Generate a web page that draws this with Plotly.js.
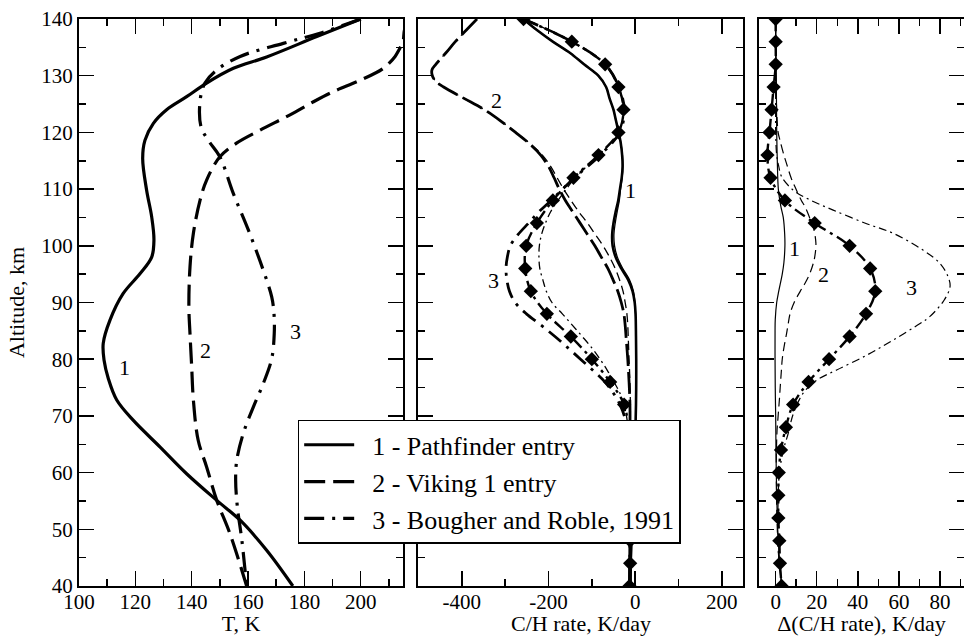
<!DOCTYPE html>
<html><head><meta charset="utf-8">
<script src="https://cdn.plot.ly/plotly-3.0.1.min.js"></script>
<style>html,body{margin:0;padding:0;background:#fff}#chart{width:964px;height:636px}</style>
</head><body><div id="chart"></div>
<script>
// ---- Panel 1: temperature profiles (T, K vs altitude, km)
var altT1 = [140,136.9,133.3,131.3,128.7,126.3,124,121.6,118.6,115.4,109.8,105.1,101,98,95.1,91.6,86.9,82.8,79.8,76.6,72.8,69.2,64.5,59.8,55.1,51.6,46.3,40];
var T1 = [200,184.4,166.6,154.8,145.3,138.2,131.1,126.4,123.4,122.6,124,125.8,126.6,125.8,121.7,115.7,111,108.6,108.9,110.4,113.4,119.3,128.8,138.2,148.9,157.2,166.6,175.9];
var altT2 = [140,138,136,134.5,133.4,131.3,129.2,127.2,125.4,123.1,120.4,118.1,115.7,111.6,108.1,102.2,96.3,89.2,84.5,78.6,72.8,65.7,61,55.1,49.2,40];
var T2 = [217,215.5,215,213.5,212.2,208,199.8,190.3,183.2,174.9,164.3,155.9,150,145.3,143,140.6,139.4,139,139.4,140,140.6,142.3,145.3,148.9,153.6,159.5];
var altT3 = [140,137.5,135.7,133.4,131,128.7,125.7,121,118.6,115.7,109.2,102.8,95.7,91,88.1,84.5,80.1,75.7,71.6,66.9,62.2,58.7,54,48.1,40];
var T3 = [200,185.5,172.5,157.2,148.9,144.7,143,143.3,145.9,150,154.8,160.1,165.4,168.4,169.2,169.3,168.4,165.4,161.9,158.3,156,155.6,156.2,157.8,159.5];

// ---- Panel 2: C/H rate, K/day
var altM1 = [140,138,136,134,132,130,128,126,124,122,120,118,116,114,112,110,108,106,104,102,100,98,96,94,92,90,88,84,80,76,72,66,60,55,50,45,40];
var rateM1 = [-258,-226,-190,-150,-118,-85,-67,-59,-50,-44,-38,-33,-30,-29,-31,-35,-39,-45,-50,-53,-52,-45,-32,-16,-6,-1,1,2,2.5,2.5,2,0,-3,-5,-8,-10,-12];
var rateM1b = [-258,-226,-190,-150,-118,-85,-67,-59,-50,-44,-37.5,-32.5,-29.3,-28.2,-30,-33.7,-36.5,-41.5,-46,-49,-47.5,-41,-28.5,-13,-4,-0.5,1,1.7,2.2,2.3,2,0.2,-2.7,-4.5,-7,-8.5,-9];
var altM2 = [140,138,136,134,132,131,130,129,128,126,124,122,120,118,116,114,112,110,108,106,104,102,100,98,96,94,92,90,88,86,84,80,76,72,66,60,50,40];
var rateM2 = [-365,-390,-415,-437,-460,-469,-468,-460,-442,-395,-348,-310,-276,-244,-218,-200,-187,-175,-161,-144,-127,-110,-93,-78,-63,-51,-40,-32,-26,-23,-21,-17,-14,-12,-12,-12,-12,-13];
var rateM2b = [-365,-390,-415,-437,-460,-469,-468,-460,-442,-395,-348,-310,-275,-242,-214,-195,-180,-165,-148,-130,-110,-92,-74,-59,-46,-36,-28,-23,-19,-17,-16,-14,-12,-11,-11,-11,-11,-10];
var altM3 = [140,136,132,128,124,120,116,112,108,106,104,102,100,98,96,94,92,90,88,86,84,82,80,78,76,74,72,70,66,60,50,40];
var rateM3 = [-258,-146,-69,-37.5,-25,-35.5,-80.6,-140,-194,-222,-246,-270,-288,-295,-298,-296,-290,-277,-251,-217,-185,-155,-126,-97,-70,-50,-35,-25,-17,-13,-12,-13];
var rateM3b = [-258,-146,-69,-38,-27,-38,-84,-138,-178,-195,-207,-216,-221,-222,-220,-213,-205,-192,-168,-145,-122,-100,-81,-64,-49,-35,-26,-20,-14,-11,-11,-12];
var altD = [140,136,132,128,124,120,116,112,108,104,100,96,92,88,84,80,76,72,68,64,60,56,52,48,44,40];
var rateD = [-257.6,-146.1,-69.2,-38.5,-26.9,-38.5,-84.6,-142.3,-189.9,-226.8,-251.4,-253.7,-240.7,-203.7,-148.4,-99.9,-57.7,-25.4,-16,-13,-12,-12,-12,-11.5,-11.5,-13];

// ---- Panel 3: Delta(C/H rate), K/day
var altR1 = [140,130,120,115,110,107,105,102,100,97,95,92,90,87,85,80,75,70,60,50,45,40];
var dR1 = [0,0.3,0.5,0.8,1.3,2.5,3.7,4.4,4.5,4,3.2,1.5,0.5,-0.2,-0.3,-0.3,-0.2,0,0.3,1,1.8,3];
var altR2 = [140,130,124,120,118.6,116,114.5,112,110.4,108,106.9,105,103.3,100.4,98,96.9,95,93.4,92,90,88,86,84.5,82,80,78.6,75,72.8,70,66.9,60,50,45,40];
var dR2 = [0,0,0.5,1.2,2.1,4,5.3,7.5,9.4,12.5,14.3,16.5,18.3,19.6,19,18.3,16.5,14.3,12,9,7,6,5.3,4,3.2,2.9,2.2,1.8,1.2,0.6,0.3,0.8,1.5,3];
var altR3 = [140,125,120,116,114,112.2,109.8,108.1,106.3,103.9,102.2,99.2,96.9,94.5,92.8,90.4,87.5,86.3,83.4,80.7,78.1,76.3,74,70.4,66.9,63.9,59.8,55,50,45,40];
var dR3 = [0,0,0,0.5,1.5,2.9,8.6,16.7,28,44.3,57.3,71.9,80,84,84.9,82,75,70.3,57.3,44.3,29.7,20,13.4,8.6,6.1,3.7,1.8,1.2,1,1.5,3];
var dRD = [0,0,0,-1,-2,-3,-4,-2.5,4.5,19,36,46,48.5,44,36,26,16,8.5,5,2.6,1.5,1.3,1.3,1.8,2.1,2.9];

var legendNames = ['1 - Pathfinder entry','2 - Viking 1 entry','3 - Bougher and Roble, 1991'];
var midTicks = [-400,-200,0,200];
var midTickText = ['-400','-200','0','200'];

var K = 'black';
var thickDash = '21px,8px', thickDashDot = '20px,8px,3px,8px';
var thinDash = '9px,5px', thinDashDot = '8px,4px,2px,4px';
function ln(x, y, xa, ya, w, dash, extra) {
  var t = {x:x, y:y, xaxis:xa, yaxis:ya, mode:'lines', showlegend:false,
    line:{color:K, width:w, dash:dash, shape:'spline'}, hoverinfo:'skip'};
  if (extra) for (var k in extra) t[k] = extra[k];
  return t;
}
var PAD = '\u2002';
var data = [
  ln(T1, altT1, 'x', 'y', 3.2, 'solid', {name:PAD + legendNames[0], showlegend:true}),
  ln(T2, altT2, 'x', 'y', 3.2, thickDash, {name:PAD + legendNames[1], showlegend:true}),
  ln(T3, altT3, 'x', 'y', 3.2, thickDashDot, {name:PAD + legendNames[2], showlegend:true}),
  ln(rateM1, altM1, 'x2', 'y2', 2.6, 'solid'),
  ln(rateM1b, altM1, 'x2', 'y2', 1.3, 'solid'),
  ln(rateM2, altM2, 'x2', 'y2', 2.8, '22px,6px'),
  ln(rateM2b, altM2, 'x2', 'y2', 1.3, thinDash),
  ln(rateM3, altM3, 'x2', 'y2', 2.8, '16px,7px,3px,7px'),
  ln(rateM3b, altM3, 'x2', 'y2', 1.3, thinDashDot),
  ln(rateD, altD, 'x2', 'y2', 2.4, '12px,5px,3px,5px', {mode:'lines+markers', marker:{symbol:'diamond', size:11, color:K}}),
  ln(dR1, altR1, 'x3', 'y3', 1.2, 'solid'),
  ln(dR2, altR2, 'x3', 'y3', 1.2, thinDash),
  ln(dR3, altR3, 'x3', 'y3', 1.2, thinDashDot),
  ln(dRD, altD, 'x3', 'y3', 2.4, '12px,5px,3px,5px', {mode:'lines+markers', marker:{symbol:'diamond', size:11, color:K}})
];

var FONT = '"Liberation Serif", "Times New Roman", serif';
function axis(o) {
  var a = {showline:true, linecolor:K, linewidth:2, mirror:'ticks', ticks:'inside', ticklen:15, tickwidth:1.5, tickcolor:K,
    showgrid:false, zeroline:false, tickfont:{family:FONT, size:21, color:K},
    minor:{ticks:'inside', ticklen:7, tickwidth:1.5, tickcolor:K, showgrid:false}};
  for (var k in o) { if (k === 'minor') { for (var m in o.minor) a.minor[m] = o.minor[m]; } else a[k] = o[k]; }
  return a;
}
var yr = [40,140];
var TF = {family:FONT, size:22, color:K};
var layout = {
  width:964, height:636, paper_bgcolor:'white', plot_bgcolor:'white',
  margin:{l:79, r:0, t:19, b:50},
  font:{family:FONT, color:K},
  showlegend:true,
  xaxis: axis({domain:[0,0.3661], range:[100,215], tick0:100, dtick:20, minor:{dtick:10}, anchor:'y', ticklabelstandoff:-4,
    title:{text:'T, K', font:TF, standoff:0}}),
  yaxis: axis({domain:[0,1], range:yr, tick0:40, dtick:10, minor:{dtick:5}, anchor:'x',
    title:{text:'Altitude, km', font:TF}}),
  xaxis2: axis({domain:[0.3836,0.7508], range:[-500,250], tickmode:'array', tickvals:midTicks, ticktext:midTickText, ticklabelstandoff:-4,
    minor:{tickmode:'linear', tick0:0, dtick:100}, anchor:'y2', title:{text:'C/H rate, K/day', font:TF, standoff:0}}),
  yaxis2: axis({domain:[0,1], range:yr, tick0:40, dtick:10, minor:{dtick:5}, anchor:'x2', showticklabels:false}),
  xaxis3: axis({domain:[0.7684,1], range:[-8.1,91.7], tick0:0, dtick:20, minor:{dtick:10}, anchor:'y3', ticklabelstandoff:-4,
    title:{text:'Δ(C/H rate), K/day', font:TF, standoff:0}}),
  yaxis3: axis({domain:[0,1], range:yr, tick0:40, dtick:10, minor:{dtick:5}, anchor:'x3', showticklabels:false}),
  legend:{x:0.2471, y:0.293, xanchor:'left', yanchor:'top', bgcolor:'white', bordercolor:K, borderwidth:1.5,
    font:{family:FONT, size:26, color:K}, itemwidth:50, tracegroupgap:0},
  annotations:[
    {x:116.3, y:78.6, xref:'x', yref:'y', text:'1'},
    {x:145, y:81.6, xref:'x', yref:'y', text:'2'},
    {x:176.7, y:84.8, xref:'x', yref:'y', text:'3'},
    {x:-11.5, y:109.8, xref:'x2', yref:'y2', text:'1'},
    {x:-319, y:125.7, xref:'x2', yref:'y2', text:'2'},
    {x:-328, y:93.8, xref:'x2', yref:'y2', text:'3'},
    {x:9.4, y:99.5, xref:'x3', yref:'y3', text:'1'},
    {x:23.2, y:95, xref:'x3', yref:'y3', text:'2'},
    {x:65.9, y:92.7, xref:'x3', yref:'y3', text:'3'}
  ].map(function(a){ a.showarrow=false; a.font={family:FONT, size:22, color:K}; return a; })
};
Plotly.newPlot('chart', data, layout, {displayModeBar:false, staticPlot:true});
</script></body></html>
